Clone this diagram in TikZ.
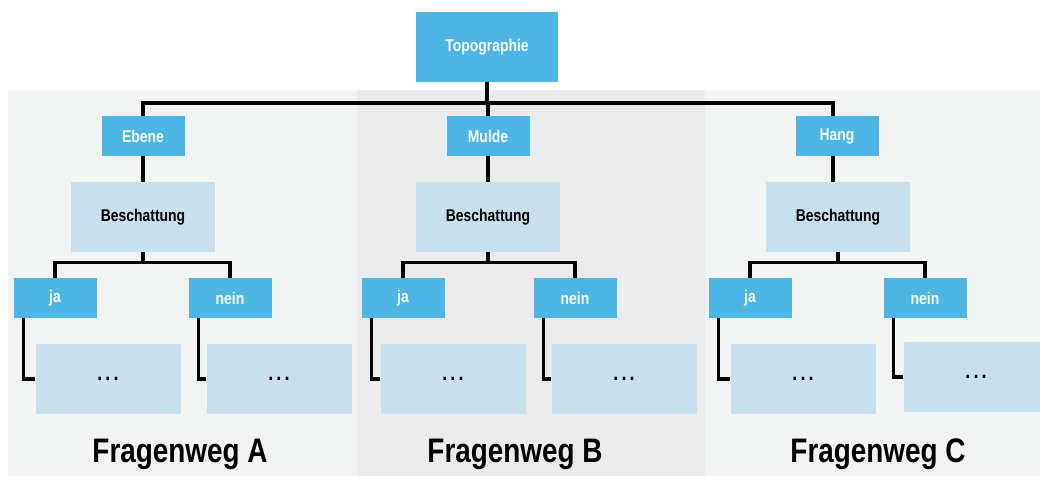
\documentclass[tikz,border=0pt]{standalone}
\usepackage{fontspec}
\setmainfont{Liberation Sans}[FakeStretch=0.82]
\usepackage{xcolor}
\definecolor{topblue}{RGB}{78,182,229}
\definecolor{paleblue}{RGB}{199,224,236}
\definecolor{panelgray}{RGB}{242,243,243}
\definecolor{paneldark}{RGB}{235,235,235}

\begin{document}
\begin{tikzpicture}[x=1pt, y=-1pt,
    keybox/.style = {fill=topblue, text=white!94!topblue, minimum width=83pt,
                minimum height=40pt, inner sep=0pt,
                font=\fontsize{17}{17}\selectfont\bfseries},
    askbox/.style = {fill=paleblue, text=black, minimum width=144pt,
                minimum height=70pt, inner sep=0pt,
                font=\fontsize{17}{17}\selectfont\bfseries},
    wire/.style = {black, line width=3.2pt},
    title/.style = {anchor=base, font=\fontsize{34}{34}\selectfont\bfseries}
                    ]
    \useasboundingbox (0,0) rectangle (1040,476);
    % panels
    \fill[panelgray] (8,90) rectangle (357,476);
    \fill[paneldark] (357,90) rectangle (705,476);
    \fill[panelgray] (705,90) rectangle (1040,476);
    \def\restdots{\fontsize{22}{22}\selectfont.\hspace{3pt}.\hspace{3pt}.}
    \def\ly{136}
    \def\by{217}
    \def\jy{298}
    \def\dy{379}
    \node[keybox, minimum width=142pt, minimum height=70pt] at (487,47) (topo) {Topographie};
    \coordinate (bus) at (487,103);
    % Fragenweg A
    \def\dx{0}
    \node[keybox] at (143+\dx,\ly) (ebene) {Ebene};
    \node[askbox] at (143+\dx,\by) (beschA) {Beschattung};
    \node[keybox] at (55+\dx,\jy) (jaA) {ja};
    \node[keybox] at (230+\dx,\jy) (neinA) {nein};
    \node[askbox, minimum width=145pt] at (108+\dx,\dy) (restjaA) {\restdots};
    \node[askbox, minimum width=145pt] at (279+\dx,\dy) (restneinA) {\restdots};
    \node[title] at (180,462) (wegA) {Fragenweg A};
    % Fragenweg B
    \def\dx{345}
    \node[keybox] at (143+\dx,\ly) (mulde) {Mulde};
    \node[askbox] at (143+\dx,\by) (beschB) {Beschattung};
    \node[keybox] at (58+\dx,\jy) (jaB) {ja};
    \node[keybox] at (230+\dx,\jy) (neinB) {nein};
    \node[askbox, minimum width=145pt] at (108+\dx,\dy) (restjaB) {\restdots};
    \node[askbox, minimum width=145pt] at (279+\dx,\dy) (restneinB) {\restdots};
    \node[title] at (515,462) (wegB) {Fragenweg B};
    % Fragenweg C
    \def\dx{695}
    \node[keybox] at (142+\dx,\ly) (hang) {Hang};
    \node[askbox] at (143+\dx,\by) (beschC) {Beschattung};
    \node[keybox] at (55+\dx,\jy) (jaC) {ja};
    \node[keybox] at (230+\dx,\jy) (neinC) {nein};
    \node[askbox, minimum width=145pt] at (108+\dx,\dy) (restjaC) {\restdots};
    \node[askbox, minimum width=145pt] at (281+\dx,\dy-2) (restneinC) {\restdots};
    \node[title] at (878,462) (wegC) {Fragenweg C};
    % wires
    \draw[wire] (topo.south) -- (bus);
    \draw[wire] (ebene.north) |- (bus) -| ([xshift=-4pt]hang.north);
    \draw[wire] (mulde.north) |- (bus);
    \draw[wire] (ebene) -- (beschA);
    \draw[wire] (mulde) -- (beschB);
    \draw[wire] ([xshift=-4pt]hang.south) -- ([xshift=-4pt]hang.south |- beschC.north);
    \foreach \p in {A,B,C}{
        \draw[wire] (besch\p.south) -- ++(0,10) coordinate (split\p);
        \draw[wire] (ja\p.north) |- (split\p) -| (nein\p.north);
        \draw[wire] ([xshift=10pt]ja\p.south west) |- (restja\p.west);
        \draw[wire] ([xshift=10pt]nein\p.south west) |- (restnein\p.west);
    }
\end{tikzpicture}
\end{document}
